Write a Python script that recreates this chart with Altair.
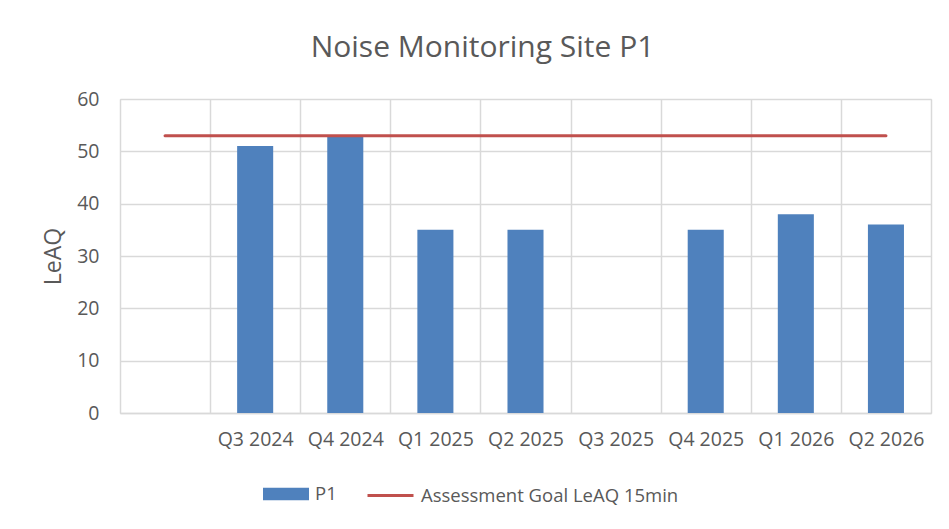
import altair as alt
import pandas as pd

categories = ["", "Q3 2024", "Q4 2024", "Q1 2025", "Q2 2025", "Q3 2025", "Q4 2025", "Q1 2026", "Q2 2026"]
p1_values = [None, 51, 53, 35, 35, None, 35, 38, 36]
goal_values = [53, 53, 53, 53, 53, 53, 53, 53, 53]
bar_name = "P1"
goal_name = "Assessment Goal LeAQ 15min"
bar_color = "#4F81BD"
goal_color = "#C0504D"

FONT = "Open Sans"
TXT = "#595959"
GRID = "#D9D9D9"
FS = 19.5
LFS = 18.5

bars_df = pd.DataFrame({"cat": categories, "value": p1_values, "sbar": bar_name})
goal_df = pd.DataFrame({"cat": categories, "value": goal_values, "sline": goal_name})

x_enc = alt.X(
    "cat:N",
    sort=categories,
    scale=alt.Scale(domain=categories, paddingInner=0, paddingOuter=0),
    axis=alt.Axis(
        title=None, grid=True, gridColor=GRID, gridWidth=1.5, tickBand="extent",
        ticks=False, domainColor=GRID, domainWidth=1.5, labelAngle=0,
        labelFont=FONT, labelFontSize=FS, labelColor=TXT, labelPadding=17,
    ),
)
y_enc = alt.Y(
    "value:Q",
    scale=alt.Scale(domain=[0, 60]),
    axis=alt.Axis(
        title="LeAQ", values=[0, 10, 20, 30, 40, 50, 60], grid=True, gridColor=GRID,
        gridWidth=1.5, domain=False, ticks=False, labelFont=FONT, labelFontSize=FS,
        labelColor=TXT, labelPadding=21, titleFont=FONT, titleFontSize=23,
        titleFontWeight="normal", titleColor=TXT, titlePadding=11,
    ),
)

rect_path = "M-1,-0.27 L1,-0.27 L1,0.27 L-1,0.27 Z"
bar_legend = alt.Legend(
    title=None, orient="none", direction="horizontal", legendX=143, legendY=372,
    labelFont=FONT, labelFontSize=LFS, labelColor=TXT, labelOffset=6, labelLimit=400,
    symbolSize=2116, symbolType=rect_path, symbolStrokeWidth=0, padding=0,
)
line_legend = alt.Legend(
    title=None, orient="none", direction="horizontal", legendX=246, legendY=372,
    labelFont=FONT, labelFontSize=LFS, labelColor=TXT, labelOffset=6, labelLimit=400,
    symbolSize=2116, symbolType="stroke", symbolStrokeWidth=3, padding=0,
)

bars = alt.Chart(bars_df).mark_bar(width=alt.RelativeBandSize(0.4)).encode(
    x=x_enc, y=y_enc,
    fill=alt.Fill("sbar:N", scale=alt.Scale(domain=[bar_name], range=[bar_color]), legend=bar_legend),
)
line = alt.Chart(goal_df).mark_line(strokeWidth=3, strokeCap="round").encode(
    x=x_enc, y=y_enc,
    stroke=alt.Stroke("sline:N", scale=alt.Scale(domain=[goal_name], range=[goal_color]), legend=line_legend),
)

chart = (
    alt.layer(bars, line)
    .resolve_legend(fill="independent", stroke="independent")
    .properties(
        width=811,
        height=314,
        autosize=alt.AutoSizeParams(type="none"),
        padding={"left": 112, "top": 91, "right": 2, "bottom": 100},
        title=alt.TitleParams(
            "Noise Monitoring Site P1", font=FONT, fontSize=30, fontWeight="normal",
            color=TXT, anchor="middle", dx=-43, offset=2, baseline="alphabetic",
        ),
    )
    .configure_view(stroke=None)
    .configure(background="white")
)

chart.save("out.html", embed_options={"renderer": "svg", "actions": False})
